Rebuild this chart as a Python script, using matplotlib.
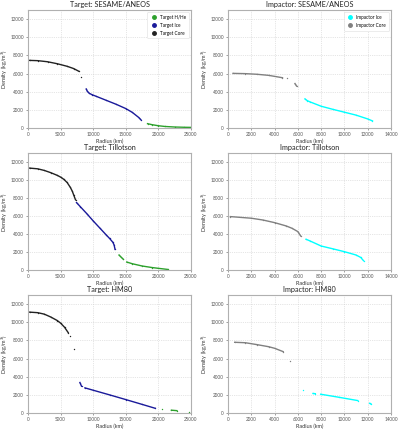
import numpy as np
import matplotlib
matplotlib.use("Agg")
import matplotlib.pyplot as plt

nan = np.nan

# ---------------- data (radius km, density kg/m^3); NaN separates gaps ----------------
# Target SESAME/ANEOS
t_ses_core_r = [250, 1500, 3000, 4500, 6000, 7000, 7800, nan, 8200]
t_ses_core_d = [7450, 7420, 7300, 7080, 6800, 6550, 6250, nan, 5650]
t_ses_ice_r = [8930, 9100, 9400, 9800, 10500, 12000, 13500, 15000, 16000, 17000, 17300]
t_ses_ice_d = [4300, 4050, 3820, 3680, 3480, 3050, 2620, 2140, 1720, 1150, 920]
t_ses_hhe_r = [18330, 19000, 20000, 21000, 22500, 24000, 25000]
t_ses_hhe_d = [480, 370, 250, 170, 110, 80, 70]

# Impactor SESAME/ANEOS
i_ses_core_r = [430, 1500, 2500, 3500, 4680, nan, 5090, nan, 5750, 5890]
i_ses_core_d = [6020, 5990, 5920, 5800, 5540, nan, 5470, nan, 4900, 4620]
i_ses_ice_r = [6610, 6800, 7040, 8000, 9000, 10000, 11000, 12000, 12410]
i_ses_ice_d = [3210, 3020, 2880, 2400, 2060, 1740, 1420, 1000, 780]

# Target Tillotson
t_til_core_r = [250, 1500, 2500, 3500, 4500, 5000, 5500, 6000, 6500, 6800, 7000, 7290]
t_til_core_d = [11330, 11250, 11070, 10820, 10520, 10330, 10080, 9730, 9180, 8750, 8360, 7800]
t_til_ice_r = [7440, 8000, 9000, 10000, 11000, 12000, 12500, 13000, 13200, 13350]
t_til_ice_d = [7500, 7060, 6280, 5460, 4680, 3900, 3520, 3100, 2800, 2300]
t_til_hhe_r = [13960, 14300, 14630, nan, 15140, 16000, 17500, 19000, 20000, 21400]
t_til_hhe_d = [1670, 1420, 1190, nan, 890, 700, 450, 280, 190, 70]

# Impactor Tillotson
i_til_core_r = [200, 2000, 3000, 4000, 5000, 5500, 6000, 6240]
i_til_core_d = [5940, 5760, 5560, 5270, 4900, 4640, 4270, 3790]
i_til_ice_r = [6700, 7000, 8000, 9000, 10000, 11000, 11400, 11640]
i_til_ice_d = [3420, 3260, 2670, 2360, 2040, 1670, 1400, 1040]

# Target HM80
t_hm_core_r = [250, 1500, 2500, 3500, 4500, 5000, 5600, 6160, nan, 6420, nan, 7030]
t_hm_core_d = [11110, 11050, 10890, 10570, 10180, 9900, 9450, 8860, nan, 8530, nan, 7050]
t_hm_ice_r = [7960, 8210, nan, 8730, 10000, 12500, 15000, 17500, 19510]
t_hm_ice_d = [3360, 2950, nan, 2770, 2510, 2000, 1480, 950, 520]
t_hm_hhe_r = [20530, nan, 22000, 22840, nan, 24640]
t_hm_hhe_d = [410, nan, 310, 260, nan, 150]

# Impactor HM80
i_hm_core_r = [575, 1500, 2500, 3500, 4000, 4740, nan, 5320]
i_hm_core_d = [7790, 7740, 7530, 7300, 7130, 6760, nan, 5690]
i_hm_ice_r = [6410, nan, 7300, 7500, nan, 7960, 9500, 11150, nan, 12160, 12270]
i_hm_ice_d = [2580, nan, 2150, 2130, nan, 2070, 1740, 1370, nan, 1070, 1000]

titles = ["Target: SESAME/ANEOS", "Impactor: SESAME/ANEOS",
          "Target: Tillotson", "Impactor: Tillotson",
          "Target: HM80", "Impactor: HM80"]
target_labels = ["Target H/He", "Target Ice", "Target Core"]
impactor_labels = ["Impactor Ice", "Impactor Core"]

c_hhe = "#2ca02c"
c_ice_t = "#1a1a9a"
c_core_t = "#222222"
c_ice_i = "#00ffff"
c_core_i = "#808080"

plt.rcParams['font.family'] = ['Lato', 'DejaVu Sans']

fig = plt.figure(figsize=(4.0, 4.3), dpi=100)
lefts = [0.07, 0.57]
width = 0.4075
rows = [(0.7023, 0.2744), (0.372, 0.272), (0.0395, 0.2745)]

target_data = [
    [(t_ses_hhe_r, t_ses_hhe_d), (t_ses_ice_r, t_ses_ice_d), (t_ses_core_r, t_ses_core_d)],
    [(t_til_hhe_r, t_til_hhe_d), (t_til_ice_r, t_til_ice_d), (t_til_core_r, t_til_core_d)],
    [(t_hm_hhe_r, t_hm_hhe_d), (t_hm_ice_r, t_hm_ice_d), (t_hm_core_r, t_hm_core_d)],
]
impactor_data = [
    [(i_ses_ice_r, i_ses_ice_d), (i_ses_core_r, i_ses_core_d)],
    [(i_til_ice_r, i_til_ice_d), (i_til_core_r, i_til_core_d)],
    [(i_hm_ice_r, i_hm_ice_d), (i_hm_core_r, i_hm_core_d)],
]


def style(ax, xmax, xticks, title):
    ax.set_xlim(0, xmax)
    ax.set_ylim(0, 13000)
    ax.set_xticks(xticks)
    ax.set_yticks([0, 2000, 4000, 6000, 8000, 10000, 12000])
    ax.grid(True, linestyle=':', color='#cccccc', linewidth=0.5)
    ax.set_axisbelow(True)
    ax.tick_params(labelsize=3.3, length=1.5, width=0.4, pad=1.5, colors='#555555')
    for s in ['top', 'right', 'left', 'bottom']:
        ax.spines[s].set_color('#b0b0b0')
        ax.spines[s].set_linewidth(0.8)
    ax.set_title(title, fontsize=5.2, pad=2.5, color='#222222')
    ax.set_xlabel("Radius (km)", fontsize=4.0, labelpad=1, color='#333333')
    ax.set_ylabel("Density (kg/m$^3$)", fontsize=4.0, color='#333333')
    ax.yaxis.set_label_coords(-0.112, 0.5)


for i, (bottom, height) in enumerate(rows):
    axl = fig.add_axes([lefts[0], bottom, width, height])
    for (r, d), col, lab in zip(target_data[i], [c_hhe, c_ice_t, c_core_t], target_labels):
        axl.plot(r, d, color=col, lw=1.0, marker='o', ms=1.0, mew=0, label=lab)
    style(axl, 25000, [0, 5000, 10000, 15000, 20000, 25000], titles[2 * i])

    axr = fig.add_axes([lefts[1], bottom, width, height])
    for (r, d), col, lab in zip(impactor_data[i], [c_ice_i, c_core_i], impactor_labels):
        axr.plot(r, d, color=col, lw=1.0, marker='o', ms=1.0, mew=0, label=lab)
    style(axr, 14000, [0, 2000, 4000, 6000, 8000, 10000, 12000, 14000], titles[2 * i + 1])

    if i == 0:
        for ax in (axl, axr):
            h, l = ax.get_legend_handles_labels()
            handles = [plt.Line2D([], [], color=hh.get_color(), marker='o', ls='none', ms=2.5) for hh in h]
            ax.legend(handles, l, loc='upper right', fontsize=3.3, frameon=True,
                      framealpha=1, edgecolor='#dddddd', borderpad=0.6, labelspacing=0.6,
                      handletextpad=0.6, handlelength=1.5).get_frame().set_linewidth(0.4)

fig.savefig("out.png", dpi=100)
